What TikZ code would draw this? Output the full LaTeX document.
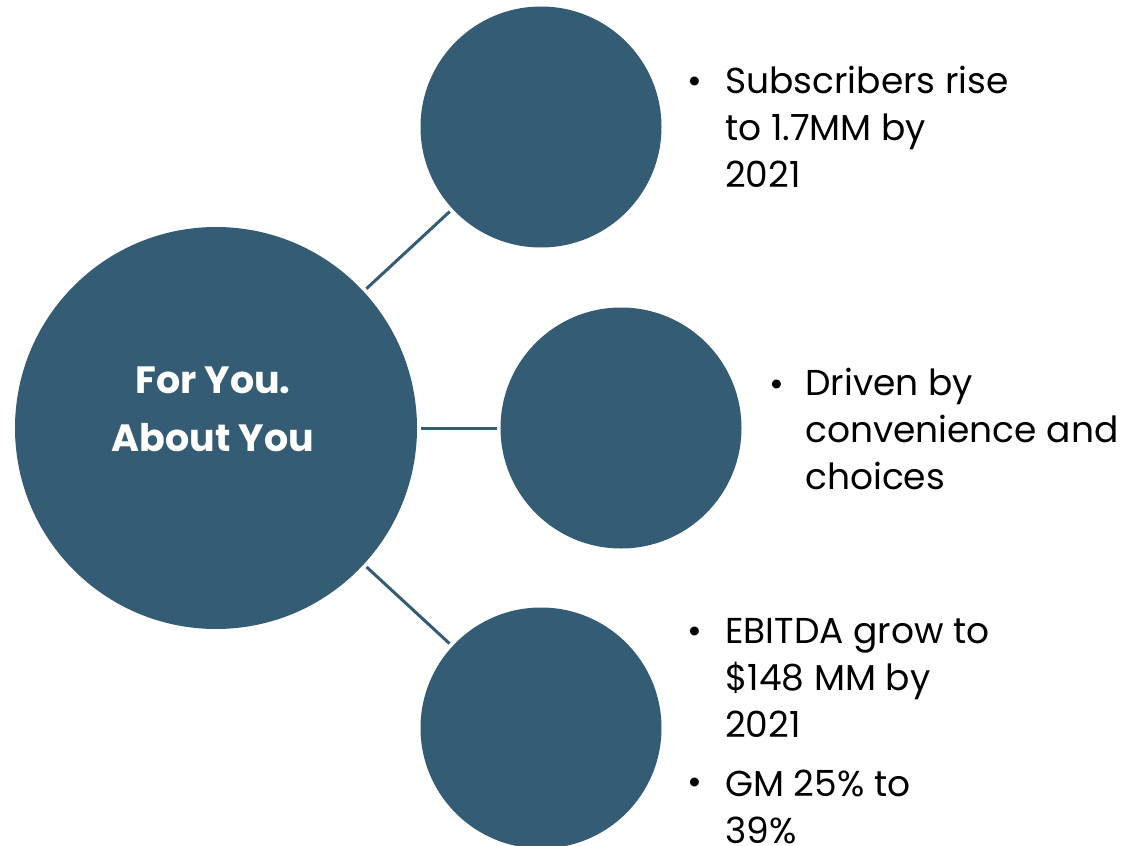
\documentclass[tikz,border=0pt]{standalone}
\usepackage{fontspec}
\setmainfont{Poppins}
\usepackage{tikz}
\usetikzlibrary{positioning}

\definecolor{bubble}{HTML}{355C75}

\tikzset{
  hub/.style={circle, fill=bubble, inner sep=0pt, outer sep=3pt, minimum size=301.5pt},
  leaf/.style={circle, fill=bubble, inner sep=0pt, outer sep=3pt, minimum size=180.75pt},
  spoke/.style={draw=bubble, line width=2.25pt},
  point/.style={anchor=base west, align=left, inner sep=0pt, font=\fontsize{27}{35.25}\selectfont},
  dot/.style={anchor=base, inner sep=0pt, font=\fontsize{27}{35.25}\selectfont}
}

\begin{document}
\begin{tikzpicture}[x=0.75pt, y=-0.75pt]
    \useasboundingbox (0,0) rectangle (1122,846);

    % Circles
    \node[hub]  (core) at (216,428) {};
    \node[leaf] (top)  at (541,127) {};
    \node[leaf] (mid)  at (621,428) {};
    \node[leaf] (bot)  at (541,728) {};

    % Spokes
    \draw[spoke] (core) -- (top);
    \draw[spoke] (core) -- (mid);
    \draw[spoke] (core) -- (bot);

    % Centre text (base = last line)
    \node[anchor=base, align=center, inner sep=0pt, text=white,
          font=\fontsize{28.5}{43.5}\selectfont\bfseries] (title) at (213,451)
          {For You.\\About You};

    % Bullet points (base = last line)
    \node[dot] (b1) at (695,93) {•};
    \node[point] (sub) at (725,187) {Subscribers rise\\to 1.7MM by\\2021};

    \node[dot] (b2) at (777,396) {•};
    \node[point] (drv) at (805,489) {Driven by\\convenience and\\choices};

    \node[dot] (b3) at (695,643) {•};
    \node[point] (ebit) at (725,737) {EBITDA grow to\\\$148 MM by\\2021};
    \node[dot] (b4) at (695,794) {•};
    \node[point] (gm) at (725,843) {GM 25\% to\\39\%};
\end{tikzpicture}
\end{document}
